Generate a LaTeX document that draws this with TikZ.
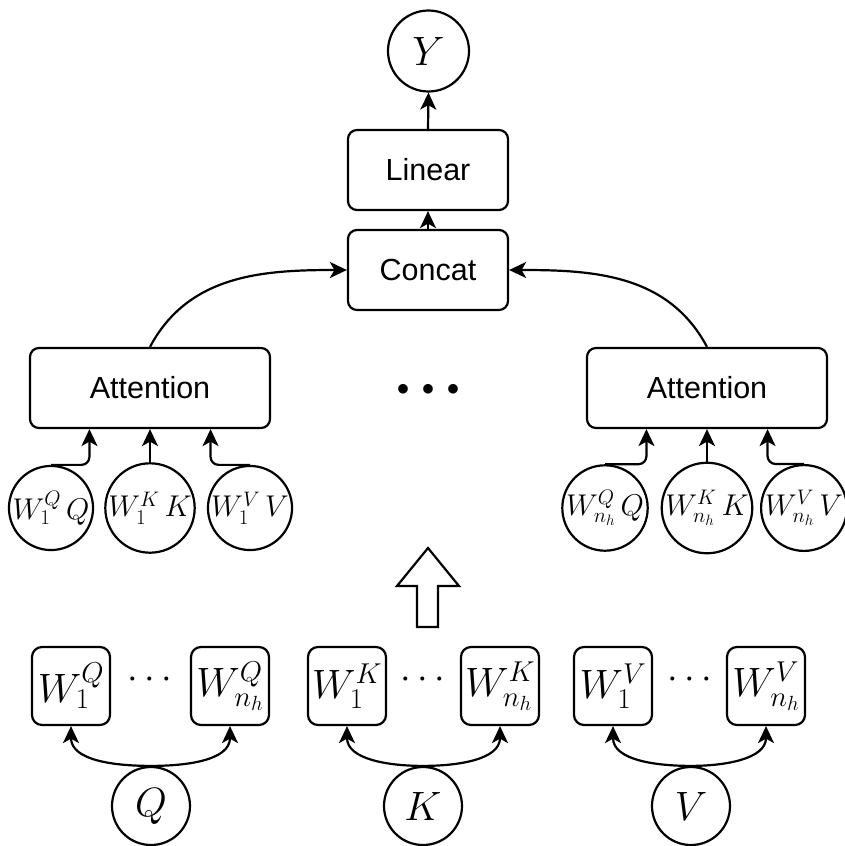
\documentclass[tikz,border=0pt]{standalone}
\usepackage{fix-cm}
\usepackage[no-math]{fontspec}
\setmainfont{Liberation Sans}
\usetikzlibrary{arrows.meta,calc}

\tikzset{
  box/.style={draw, line width=2.2pt, rounded corners=9pt, minimum width=160pt,
    minimum height=80pt, inner sep=0pt, font=\fontsize{30.5}{36}\selectfont},
  circ/.style={draw, circle, line width=2.2pt, minimum size=81pt, inner sep=0pt},
  mat/.style={draw, line width=2.2pt, rounded corners=10pt, minimum size=78pt,
    inner sep=0pt, font=\fontsize{41}{48}\selectfont},
  small/.style={font=\fontsize{30}{34}\selectfont},
  big/.style={font=\fontsize{41}{48}\selectfont},
  arr/.style={-{Stealth[length=17pt,width=16pt,inset=4.5pt]}, line width=2.2pt},
}

\begin{document}
\begin{tikzpicture}[x=1pt, y=-1pt]
\useasboundingbox (0,0) rectangle (845,846);

% output path
\node[circ, big] (Y) at (428.5,51) {$Y$};
\node[box] (lin) at (428,170) {Linear};
\node[box] (cat) at (428,270) {Concat};
\draw[arr] (lin.north) -- (Y.south);
\draw[arr] (cat.north) -- (lin.south);

% attention heads
\node[box, minimum width=240pt] (attL) at (150,388) {Attention};
\node[box, minimum width=240pt] (attR) at (707,388) {Attention};
\node (hd) at (428,390) {\fontsize{25}{30}\selectfont$\bullet$\hspace{12.5pt}$\bullet$\hspace{12.5pt}$\bullet$};
\draw[arr] (attL.north) to[out=62, in=180] (cat.west);
\draw[arr] (attR.north) to[out=118, in=0] (cat.east);

% projected inputs of the first head
\node[circ, small] (hq1) at (51,508) {$W_1^Q\,Q$};
\node[circ, small] (hk1) at (150,508) {$W_1^K\,K$};
\node[circ, small] (hv1) at (250,508) {$W_1^V\,V$};
\draw[arr, rounded corners=8pt] (hq1.north) -| ($(attL.south west)!0.25!(attL.south east)$);
\draw[arr] (hk1.north) -- (hk1.north |- attL.south);
\draw[arr, rounded corners=8pt] (hv1.north) -| ($(attL.south west)!0.75!(attL.south east)$);

% projected inputs of the last head
\node[circ, small] (hqn) at (605,508) {$W_{n_h}^Q\,Q$};
\node[circ, small] (hkn) at (707,508) {$W_{n_h}^K\,K$};
\node[circ, small] (hvn) at (804,508) {$W_{n_h}^V\,V$};
\draw[arr, rounded corners=8pt] (hqn.north) -| ($(attR.south west)!0.25!(attR.south east)$);
\draw[arr] (hkn.north) -- (hkn.north |- attR.south);
\draw[arr, rounded corners=8pt] (hvn.north) -| ($(attR.south west)!0.75!(attR.south east)$);

% block arrow
\draw[line width=2.2pt, line join=miter] (428,548) -- (459,586) -- (438,586) -- (438,627)
  -- (417,627) -- (417,586) -- (397,586) -- cycle;

% projection matrices
\node[mat] (q1) at (71,686) {$W_1^Q$};
\node[mat] (qn) at (230,686) {$W_{n_h}^Q$};
\node[mat] (k1) at (347,686) {$W_1^K$};
\node[mat] (kn) at (500,686) {$W_{n_h}^K$};
\node[mat] (v1) at (613,686) {$W_1^V$};
\node[mat] (vn) at (766,686) {$W_{n_h}^V$};
\node[font=\fontsize{38}{44}\selectfont] (qd) at (150,680) {$\cdots$};
\node[font=\fontsize{38}{44}\selectfont] (kd) at (423,680) {$\cdots$};
\node[font=\fontsize{38}{44}\selectfont] (vd) at (690,680) {$\cdots$};

% inputs
\node[circ, big, minimum size=78pt] (Q) at (151,806) {$Q$};
\node[circ, big, minimum size=78pt] (K) at (423,806) {$K$};
\node[circ, big, minimum size=78pt] (V) at (691,806) {$V$};
\foreach \src/\a/\b in {Q/q1/qn, K/k1/kn, V/v1/vn} {
  \draw[arr] (\src.north) to[out=180, in=-90] (\a.south);
  \draw[arr] (\src.north) to[out=0, in=-90] (\b.south);
}
\end{tikzpicture}
\end{document}
